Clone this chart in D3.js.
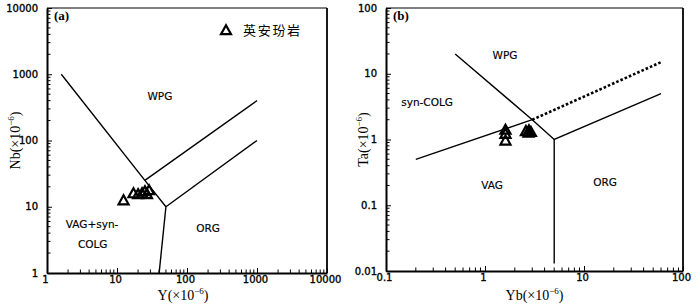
<!DOCTYPE html>
<html><head><meta charset="utf-8">
<script src="https://cdn.jsdelivr.net/npm/d3@7/dist/d3.min.js"></script>
<style>body{margin:0;background:#fff}svg{display:block}</style>
</head><body>
<svg id="c" width="700" height="305"></svg>
<script>
// ---- data ----
// Panel (a): Nb vs Y
const aTicks = [1, 10, 100, 1000, 10000];
const aTickLabels = ["1", "10", "100", "1000", "10000"];
const aY = [12.4, 17.2, 20, 22.8, 25.1, 28.7, 26.8];
const aNb = [12.6, 16.1, 15.6, 16.1, 17.3, 17.9, 15.6];
const aLine1 = [[1.6, 1000], [25, 25], [50, 10], [40, 1]];
const aLine2 = [[25, 25], [1000, 400]];
const aLine3 = [[50, 10], [1000, 100]];
const aRegions = [["WPG", 41, 410], ["VAG+syn-", 4.4, 4.8], ["COLG", 4.5, 2.4], ["ORG", 200, 4.2]];
// Panel (b): Ta vs Yb
const bXTicks = [0.1, 1, 10, 100];
const bXTickLabels = ["0.1", "1", "10", "100"];
const bYTicks = [0.01, 0.1, 1, 10, 100];
const bYTickLabels = ["0.01", "0.1", "1", "10", "100"];
const bYb = [1.61, 1.61, 1.61, 2.59, 2.78, 2.91, 2.75];
const bTa = [1.42, 1.23, 0.97, 1.35, 1.39, 1.31, 1.28];
const bLine1 = [[0.2, 0.5], [3, 2]];
const bDotted = [[3, 2], [60, 15]];
const bLine2 = [[0.5, 20], [3, 2], [5, 1], [60, 5]];
const bLine3 = [[5, 1], [5, 0.013]];
const bRegions = [["WPG", 1.59, 16.8], ["syn-COLG", 0.26, 3.2], ["VAG", 1.18, 0.177], ["ORG", 16.3, 0.196]];
const legendLabel = "英安玢岩";

const svg = d3.select("#c");
const tickFont = "DejaVu Sans";
const tri = "M0,-4.8L5,4.2L-5,4.2Z";

function minorTicks(lo, hi) {
  const out = [];
  for (let e = Math.log10(lo); e < Math.log10(hi) - 1e-9; e++) {
    for (let m = 2; m <= 9; m++) out.push(m * Math.pow(10, e));
  }
  return out;
}

function panel(o) {
  const g = svg.append("g");
  const x = d3.scaleLog().domain(o.xd).range(o.xr);
  const y = d3.scaleLog().domain(o.yd).range(o.yr);
  // frame
  g.append("line").attr("x1", o.xr[0]).attr("x2", o.xr[1]).attr("y1", o.yr[1]).attr("y2", o.yr[1]).attr("stroke", "#000").attr("stroke-width", 1.2);
  g.append("line").attr("x1", o.xr[1]).attr("x2", o.xr[1]).attr("y1", o.yr[1]).attr("y2", o.yr[0]).attr("stroke", "#000").attr("stroke-width", 1.8);
  // axes
  const xa = g.append("g").attr("transform", `translate(0,${o.yr[0]})`)
    .call(d3.axisBottom(x).tickValues(o.xt).tickFormat((d, i) => o.xtl[i]).tickSizeInner(-5).tickSizeOuter(0).tickPadding(4));
  xa.select(".domain").attr("stroke-width", 2);
  xa.selectAll("text").attr("font-family", tickFont).attr("font-size", 10).attr("dx", -2).attr("dy", "0.6em")
    .attr("stroke", "#000").attr("stroke-width", 0.35);
  xa.selectAll(".tick line").attr("stroke-width", 1);
  g.append("g").selectAll("line").data(minorTicks(o.xd[0], o.xd[1])).join("line")
    .attr("x1", d => x(d)).attr("x2", d => x(d)).attr("y1", o.yr[0]).attr("y2", o.yr[0] - 3.5).attr("stroke", "#000");
  const ya = g.append("g").attr("transform", `translate(${o.xr[0]},0)`)
    .call(d3.axisLeft(y).tickValues(o.yt).tickFormat((d, i) => o.ytl[i]).tickSizeInner(-5).tickSizeOuter(0).tickPadding(9));
  ya.select(".domain").attr("stroke-width", 2);
  ya.selectAll("text").attr("font-family", tickFont).attr("font-size", 10).attr("stroke", "#000").attr("stroke-width", 0.35);
  g.append("g").selectAll("line").data(minorTicks(o.yd[0], o.yd[1])).join("line")
    .attr("y1", d => y(d)).attr("y2", d => y(d)).attr("x1", o.xr[0]).attr("x2", o.xr[0] + 3.5).attr("stroke", "#000");
  // boundary lines
  const ln = d3.line().x(d => x(d[0])).y(d => y(d[1]));
  o.lines.forEach(L => g.append("path").attr("d", ln(L)).attr("fill", "none").attr("stroke", "#000").attr("stroke-width", 1.4));
  if (o.dotted) g.append("path").attr("d", ln(o.dotted)).attr("fill", "none").attr("stroke", "#000").attr("stroke-width", 2.6).attr("stroke-dasharray", "2.6,2");
  // region labels
  g.selectAll("text.reg").data(o.regions).join("text").attr("class", "reg")
    .attr("x", d => x(d[1])).attr("y", d => y(d[2])).attr("text-anchor", "middle")
    .attr("font-family", "DejaVu Sans").attr("font-size", 10.5).attr("stroke", "#000").attr("stroke-width", 0.15).text(d => d[0]);
  // points
  g.selectAll("path.pt").data(o.px.map((v, i) => [v, o.py[i]])).join("path").attr("class", "pt")
    .attr("d", tri).attr("transform", d => `translate(${x(d[0])},${y(d[1])})`)
    .attr("fill", "none").attr("stroke", "#000").attr("stroke-width", 2.2);
  // panel letter
  g.append("text").attr("x", o.xr[0] + 7).attr("y", o.yr[1] + 12).attr("font-family", "Liberation Serif").attr("font-weight", "bold").attr("font-size", 13).text(o.letter);
  // axis titles
  const xt = g.append("text").attr("x", (o.xr[0] + o.xr[1]) / 2 + o.xtOff).attr("y", 300).attr("text-anchor", "middle")
    .attr("font-family", "Liberation Serif").attr("font-size", 14);
  xt.append("tspan").text(o.xTitle + "(×10");
  xt.append("tspan").attr("font-size", 9).attr("dy", -6).text("−6");
  xt.append("tspan").attr("dy", 6).text(")");
  const yt = g.append("text").attr("transform", `translate(${o.ytX},${(o.yr[0] + o.yr[1]) / 2}) rotate(-90)`).attr("text-anchor", "middle")
    .attr("font-family", "Liberation Serif").attr("font-size", 14);
  yt.append("tspan").text(o.yTitle + "(×10");
  yt.append("tspan").attr("font-size", 9).attr("dy", -6).text("−6");
  yt.append("tspan").attr("dy", 6).text(")");
  return {x, y, g};
}

const A = panel({xd: [1, 10000], xr: [47, 327], yd: [1, 10000], yr: [273, 8],
  xt: aTicks, xtl: aTickLabels, yt: aTicks, ytl: aTickLabels,
  lines: [aLine1, aLine2, aLine3], regions: aRegions, px: aY, py: aNb, letter: "(a)",
  xTitle: "Y", yTitle: "Nb", ytX: 20, xtOff: -4});
const B = panel({xd: [0.1, 100], xr: [386, 683], yd: [0.01, 100], yr: [271, 8],
  xt: bXTicks, xtl: bXTickLabels, yt: bYTicks, ytl: bYTickLabels,
  lines: [bLine1, bLine2, bLine3], dotted: bDotted, regions: bRegions, px: bYb, py: bTa, letter: "(b)",
  xTitle: "Yb", yTitle: "Ta", ytX: 368, xtOff: 0});

// legend
svg.append("path").attr("d", tri).attr("transform", "translate(226,30)").attr("fill", "none").attr("stroke", "#000").attr("stroke-width", 2.2);
svg.append("text").attr("x", 243).attr("y", 35).attr("font-family", "Noto Sans CJK SC").attr("font-size", 13).attr("letter-spacing", 1.7).text(legendLabel);
</script>
</body></html>
